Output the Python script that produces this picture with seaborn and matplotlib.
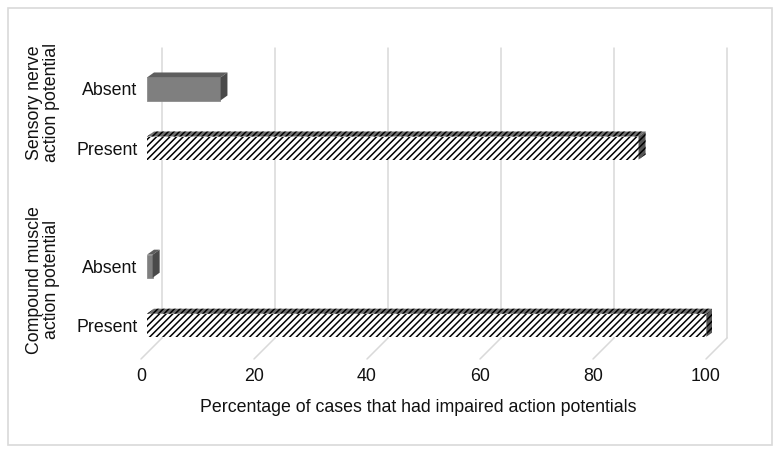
import numpy as np
import pandas as pd
import matplotlib
matplotlib.use("Agg")
import matplotlib.pyplot as plt
import matplotlib.transforms as mtrans
from matplotlib.patches import Polygon, Rectangle
import seaborn as sns

sns.set_theme(style="white")
plt.rcParams["font.family"] = ["Liberation Sans", "DejaVu Sans"]
plt.rcParams["hatch.linewidth"] = 1.1
FS = 12.8

# ---------------------------------------------------------------------------
# data
# ---------------------------------------------------------------------------
groups = ["Sensory nerve\naction potential", "Compound muscle\naction potential"]
status = ["Absent", "Present", "Absent", "Present"]
group_of = [0, 0, 1, 1]
percent = [13, 87, 1, 99]
x_ticks = [0, 20, 40, 60, 80, 100]
x_label = "Percentage of cases that had impaired action potentials"

# one empty slot between the two groups
keys = [f"{groups[g]}|{s}" for g, s in zip(group_of, status)]
order = keys[:2] + ["gap"] + keys[2:]
df = pd.DataFrame({"key": keys, "status": status, "percent": percent})

# ---------------------------------------------------------------------------
# figure
# ---------------------------------------------------------------------------
fig = plt.figure(figsize=(7.8, 4.54), dpi=100)
W, H = 780, 454
ax = fig.add_axes([147 / W, (H - 353) / H, 565 / W, 290 / H])

sns.barplot(data=df, y="key", x="percent", order=order, orient="h",
            width=0.39, color="#808080", ax=ax, legend=False)
ax.set_xlim(0, 100)
ax.set_ylim(4.47, -0.44)
for s in ax.spines.values():
    s.set_visible(False)
ax.set_xlabel(""); ax.set_ylabel("")
ax.set_xticks([])
ax.set_yticks([0, 1, 3, 4])
ax.set_yticklabels(status, fontsize=FS, color="#111111")
ax.tick_params(axis="y", length=0, pad=7)

# 3D-ish walls: back plane is shifted up-right, front plane down-left
px = 1 / fig.dpi
back = mtrans.ScaledTranslation(15 * px, 15 * px, fig.dpi_scale_trans)
front = mtrans.ScaledTranslation(-6 * px, -6 * px, fig.dpi_scale_trans)
blend = mtrans.blended_transform_factory(ax.transData, ax.transAxes)
grid_c = "#d9d9d9"
for v in x_ticks:
    ax.plot([v, v], [0, 1], color=grid_c, lw=1.1, transform=blend + back,
            zorder=0, clip_on=False)
    p_back = (blend + back).transform((v, 0))
    p_front = (blend + front).transform((v, 0))
    ax.plot([p_back[0], p_front[0]], [p_back[1], p_front[1]], color=grid_c,
            lw=1.1, transform=None, zorder=0, clip_on=False)
    ax.text(v, 0, str(v), transform=blend + front + mtrans.ScaledTranslation(
        0, -9 * px, fig.dpi_scale_trans), ha="center", va="top",
        fontsize=FS, color="#111111")

# bar styling + depth faces
ppx = ax.bbox.width / 100.0
ppy = ax.bbox.height / (4.47 + 0.44)
ddx, ddy = 7 / ppx, 5 / ppy
for bar in ax.patches[:]:
    if not isinstance(bar, Rectangle) or bar.get_width() <= 0:
        continue
    yc = bar.get_y() + bar.get_height() / 2
    slot = int(round(yc))
    st = "Present" if order[slot].endswith("Present") else "Absent"
    x0, y0 = bar.get_x(), bar.get_y()
    x1, y1 = x0 + bar.get_width(), y0 + bar.get_height()
    top = [(x0, y0), (x1, y0), (x1 + ddx, y0 - ddy), (x0 + ddx, y0 - ddy)]
    side = [(x1, y0), (x1, y1), (x1 + ddx, y1 - ddy), (x1 + ddx, y0 - ddy)]
    if st == "Present":
        bar.set_facecolor("white"); bar.set_edgecolor("black")
        bar.set_hatch("/////"); bar.set_linewidth(0)
        ax.add_patch(Polygon(top, closed=True, facecolor="#707070",
                             edgecolor="black", hatch="//////", lw=0, zorder=3))
        ax.add_patch(Polygon(side, closed=True, facecolor="#555555",
                             edgecolor="black", hatch="/////", lw=0, zorder=3))
    else:
        bar.set_facecolor("#7f7f7f"); bar.set_edgecolor("#8c8c8c")
        bar.set_linewidth(0.6)
        ax.add_patch(Polygon(top, closed=True, facecolor="#5e5e5e",
                             edgecolor="none", zorder=3))
        ax.add_patch(Polygon(side, closed=True, facecolor="#4a4a4a",
                             edgecolor="none", zorder=3))
    bar.set_zorder(3)

# group labels on the left
gblend = mtrans.blended_transform_factory(ax.transAxes, ax.transData)
lift = mtrans.ScaledTranslation(0, 16 * px, fig.dpi_scale_trans)
for g, name in enumerate(groups):
    slots = [order.index(k) for k, gg in zip(keys, group_of) if gg == g]
    ax.text((43 - 147) / 565, np.mean(slots), name, transform=gblend + lift,
            rotation=90, ha="center", va="center", multialignment="center",
            fontsize=FS, color="#111111", linespacing=1.05)

fig.text(418 / W, 1 - 408 / H, x_label, ha="center", va="center",
         fontsize=FS, color="#111111")

# outer chart frame
fig.patches.append(Rectangle((8 / W, 1 - 445 / H), 764 / W, 437 / H,
                             transform=fig.transFigure, fill=False,
                             edgecolor="#d9d9d9", lw=1.2))

fig.savefig("out.png", dpi=100)
